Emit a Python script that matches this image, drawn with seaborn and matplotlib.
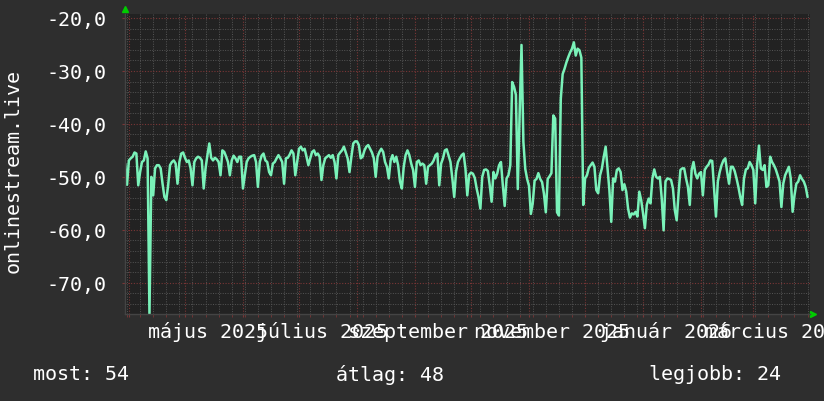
import matplotlib
matplotlib.use("Agg")
import matplotlib.pyplot as plt
import matplotlib.dates as mdates
import matplotlib.transforms as mtransforms
from matplotlib.ticker import MultipleLocator, FuncFormatter
import seaborn as sns
import pandas as pd

# daily values, first day below
start_date = "2025-03-30"
ping_values = [
    -47.5, -51.5, -46.9, -46.5, -46.2, -45.4, -45.6, -51.6, -49.1, -47.2,
    -46.9, -45.2, -46.5, -76.0, -50.0, -53.5, -48.4, -47.8, -47.8, -48.4,
    -51.3, -53.8, -54.4, -51.6, -47.8, -47.2, -46.9, -47.5, -51.3, -47.2,
    -45.6, -45.4, -46.4, -47.2, -46.9, -48.4, -51.6, -47.2, -46.5, -46.2,
    -46.4, -46.9, -52.2, -48.4, -45.9, -43.7, -46.4, -46.9, -46.4, -46.7,
    -47.2, -49.7, -45.0, -45.3, -46.2, -47.2, -49.7, -46.9, -46.0, -46.5,
    -47.2, -46.2, -46.2, -52.2, -49.7, -47.2, -46.5, -46.2, -46.0, -45.9,
    -47.2, -51.9, -47.2, -46.0, -45.6, -46.9, -47.2, -49.1, -49.7, -47.5,
    -47.2, -46.5, -45.9, -46.5, -47.2, -51.3, -46.5, -46.4, -45.8, -45.0,
    -45.6, -49.7, -47.2, -44.7, -44.3, -45.0, -44.7, -46.2, -47.8, -46.5,
    -45.3, -45.0, -45.9, -45.6, -46.2, -50.6, -47.8, -46.5, -46.2, -45.9,
    -46.4, -45.9, -47.2, -50.3, -45.9, -45.4, -45.0, -44.3, -45.4, -46.5,
    -49.1, -46.2, -43.7, -43.3, -43.3, -44.0, -46.5, -46.2, -45.0, -44.3,
    -44.0, -44.7, -45.4, -46.5, -50.0, -46.2, -45.3, -44.7, -45.3, -47.2,
    -48.1, -50.3, -46.9, -45.9, -47.2, -46.2, -47.8, -50.9, -52.2, -48.1,
    -45.9, -45.0, -45.9, -47.5, -48.7, -51.9, -47.2, -46.9, -47.8, -47.5,
    -47.8, -51.3, -48.1, -47.8, -47.5, -46.9, -45.9, -45.6, -51.6, -47.5,
    -46.5, -45.0, -44.8, -46.0, -47.2, -50.3, -53.8, -49.0, -47.2, -46.5,
    -45.9, -45.6, -48.4, -53.5, -49.6, -49.2, -49.4, -50.2, -52.2, -53.8,
    -56.0, -50.0, -48.7, -48.6, -48.9, -51.6, -54.7, -49.1, -50.3, -49.4,
    -47.8, -47.2, -51.6, -55.5, -50.3, -49.7, -47.8, -32.1, -33.0, -34.5,
    -52.3, -38.0, -25.1, -43.4, -48.5, -50.4, -51.7, -57.0, -55.0, -50.7,
    -50.4, -49.3, -50.4, -51.0, -53.2, -56.7, -50.4, -49.9, -49.3, -38.4,
    -39.0, -56.7, -57.3, -35.3, -30.6, -29.6, -28.4, -27.4, -26.5, -25.8,
    -24.6, -27.1, -25.8, -26.1, -27.5, -55.3, -50.3, -49.7, -48.3, -47.8,
    -47.3, -48.1, -52.5, -53.1, -49.7, -48.4, -46.2, -44.3, -48.4, -52.5,
    -58.5, -50.3, -50.9, -48.7, -48.4, -49.1, -52.5, -51.4, -52.8, -56.0,
    -57.7, -56.9, -57.1, -56.6, -57.5, -52.8, -54.4, -56.9, -59.7, -55.3,
    -54.1, -55.0, -50.3, -48.6, -50.0, -50.3, -50.0, -54.1, -60.1, -50.9,
    -50.3, -50.4, -50.6, -52.2, -56.3, -58.2, -53.1, -48.7, -48.4, -48.4,
    -50.3, -51.9, -55.3, -48.7, -47.2, -49.4, -50.3, -49.4, -49.1, -53.5,
    -48.7, -48.1, -47.7, -46.9, -47.0, -52.2, -57.5, -50.9, -49.1, -47.8,
    -46.9, -46.5, -49.1, -51.3, -48.1, -48.1, -48.9, -50.3, -51.9, -53.8,
    -55.3, -50.3, -48.6, -48.4, -47.2, -47.8, -48.7, -55.0, -47.8, -44.1,
    -48.4, -48.7, -47.8, -51.9, -51.6, -46.2, -47.2, -47.8, -48.6, -49.7,
    -50.9, -55.7, -51.3, -49.7, -48.9, -48.1, -50.3, -56.6, -53.5, -51.3,
    -50.9, -49.7, -50.4, -50.9, -51.9, -53.8,
]

# x labels (every second month, Hungarian)
label_months = ["2025-05", "2025-07", "2025-09", "2025-11", "2026-01", "2026-03"]
month_labels = ["május 2025", "július 2025", "szeptember 2025",
                "november 2025", "január 2026", "március 2026"]

series_name = "onlinestream.live"
legend_texts = ["most: 54", "átlag: 48", "legjobb: 24"]

df = pd.DataFrame({
    "date": pd.date_range(start_date, periods=len(ping_values), freq="D"),
    "value": ping_values,
})

sns.set_style("dark")
plt.rcParams["font.family"] = ["DejaVu Sans Mono"]
fs = 14.4

fig = plt.figure(figsize=(8.24, 4.02), dpi=100, facecolor="#2e2e2e")
ax = fig.add_axes([125 / 824, 87 / 402, 685 / 824, 300 / 402])
ax.set_facecolor("#222222")

sns.lineplot(data=df, x="date", y="value", ax=ax,
             color="#7af2b9", linewidth=1.8)

start = pd.Timestamp(start_date)
ax.set_xlim(start - pd.Timedelta(hours=2), start + pd.Timedelta(days=366.3))
ax.set_ylim(-75.9, -19.25)

# grid: red monthly / grey weekly, red every 10 / grey every 2
ax.xaxis.set_major_locator(mdates.MonthLocator())
ax.xaxis.set_minor_locator(mdates.WeekdayLocator(byweekday=mdates.MO))
ax.yaxis.set_major_locator(MultipleLocator(10))
ax.yaxis.set_minor_locator(MultipleLocator(2))
ax.grid(which="minor", color="#555555", linestyle=(0, (1, 1.5)), linewidth=0.7)
ax.grid(which="major", color="#7a3636", linestyle=(0, (1, 1.5)), linewidth=0.8)
ax.set_axisbelow(True)

ax.yaxis.set_major_formatter(FuncFormatter(lambda v, p: f"{v:.1f}".replace(".", ",")))
ax.tick_params(axis="y", which="major", colors="#7a3636", labelcolor="white",
               labelsize=fs, length=2, pad=11, left=True)
ax.tick_params(axis="y", which="minor", left=False)
ax.tick_params(axis="x", which="both", labelbottom=False, bottom=True,
               colors="#7a3636", length=2)
ax.set_xlabel("")
ax.set_ylabel("")
for side in ["top", "right"]:
    ax.spines[side].set_visible(False)
for side in ["left", "bottom"]:
    ax.spines[side].set_color("#444444")
    ax.spines[side].set_linewidth(1)

# month labels, centred a little before the middle of their month
trans = mtransforms.blended_transform_factory(ax.transData, ax.transAxes)
for m, lab in zip(label_months, month_labels):
    pos = pd.Period(m, freq="M").start_time + pd.Timedelta(days=12.5)
    ax.text(mdates.date2num(pos), -0.078, lab, transform=trans, ha="center",
            va="baseline", color="white", fontsize=fs, clip_on=False)

# axis arrows
ax.plot([0], [1.017], marker="^", color="#00cc00", markersize=5,
        transform=ax.transAxes, clip_on=False)
ax.plot([1.004], [0], marker=">", color="#00cc00", markersize=5,
        transform=ax.transAxes, clip_on=False)

fig.text(13 / 824, 1 - 171 / 402, series_name, rotation=90, ha="center",
         va="center", color="white", fontsize=fs)

for xpos, txt in zip([33, 336, 649], legend_texts):
    fig.text(xpos / 824, 1 - 375 / 402, txt, ha="left", va="center",
             color="white", fontsize=fs)

fig.savefig("out.png", dpi=100, facecolor=fig.get_facecolor())
